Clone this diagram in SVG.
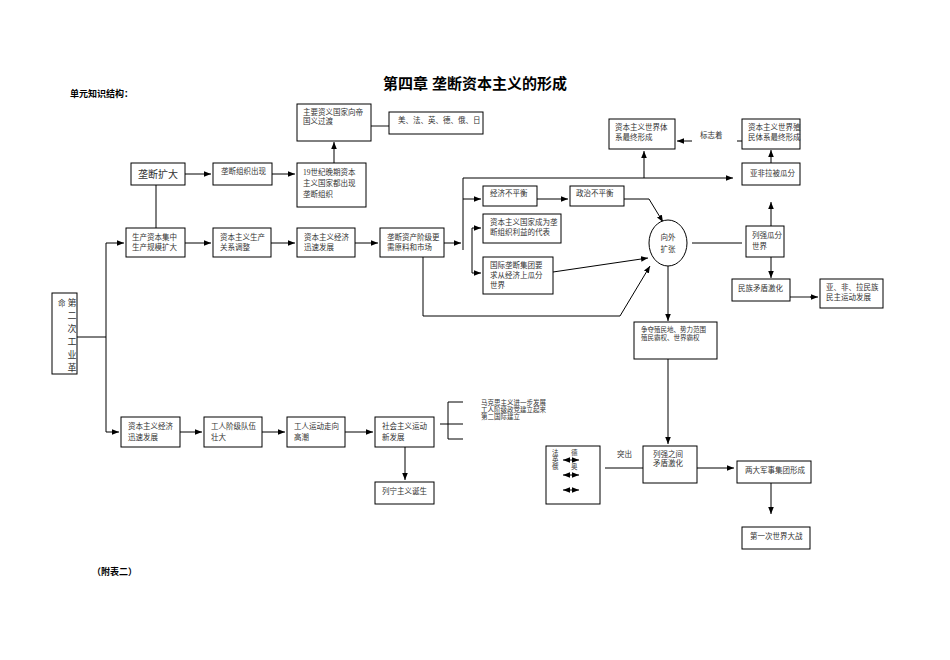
<svg xmlns="http://www.w3.org/2000/svg" width="950" height="660" viewBox="0 0 950 660">
<style>
.b{fill:#fff;stroke:#000;stroke-width:1}
text{font-family:"Liberation Serif","Noto Sans CJK SC",serif;font-size:7.5px;fill:#333}
.t{font-size:6.5px}
.l{fill:none;stroke:#000;stroke-width:1}
.g{fill:none;stroke:#888;stroke-width:2}
</style>
<defs><marker id="a" viewBox="0 0 10 10" refX="10" refY="5" markerWidth="7" markerHeight="7" orient="auto-start-reverse"><path d="M0,1L10,5L0,9z" fill="#000"/></marker></defs>
<rect width="950" height="660" fill="#fff"/>
<text x="475" y="89" text-anchor="middle" style="font-family:'Liberation Sans','Noto Sans CJK SC',sans-serif;font-size:15px;font-weight:bold;fill:#000">第四章  垄断资本主义的形成</text>
<text x="70" y="97" style="font-family:'Liberation Sans','Noto Sans CJK SC',sans-serif;font-size:9px;font-weight:bold;fill:#000">单元知识结构：</text>
<text x="92" y="575" style="font-family:'Liberation Sans','Noto Sans CJK SC',sans-serif;font-size:9px;font-weight:bold;fill:#000">（附表二）</text>
<g id="connectors">
<path class="l" d="M334,163V142" marker-end="url(#a)"/>
<path class="g" d="M371,126H389"/>
<path class="l" d="M185,174H211" marker-end="url(#a)"/>
<path class="l" d="M272,174H295" marker-end="url(#a)"/>
<path class="l" d="M156,185V228"/>
<path class="l" d="M185,243H211" marker-end="url(#a)"/>
<path class="l" d="M271,243H295" marker-end="url(#a)"/>
<path class="l" d="M355,243H378" marker-end="url(#a)"/>
<path class="l" d="M444,243H461" marker-end="url(#a)"/>
<path class="l" d="M463,250V178H733" marker-end="url(#a)"/>
<path class="l" d="M644,178V151" marker-end="url(#a)"/>
<path class="l" d="M463,199H481" marker-end="url(#a)"/>
<path class="l" d="M472,228V273H481" marker-end="url(#a)"/>
<path class="l" d="M472,228H481" marker-end="url(#a)"/>
<path class="l" d="M537,199H568" marker-end="url(#a)"/>
<path class="l" d="M624,199H649L663,222" marker-end="url(#a)"/>
<path class="l" d="M553,272L648,258" marker-end="url(#a)"/>
<path class="l" d="M423,257V316H620L650,266" marker-end="url(#a)"/>
<path class="l" d="M668,266V321" marker-end="url(#a)"/>
<path class="l" d="M692,243H742"/>
<path class="l" d="M771,226V202" marker-end="url(#a)"/>
<path class="l" d="M771,257V278" marker-end="url(#a)"/>
<path class="l" d="M771,163V150" marker-end="url(#a)"/>
<path class="l" d="M692,141H677" marker-end="url(#a)"/>
<path class="l" d="M737,141H742"/>
<path class="g" d="M790,297H816"/>
<path class="l" d="M810,297H818" marker-end="url(#a)"/>
<path class="l" d="M77,337H106V243H124" marker-end="url(#a)"/>
<path class="l" d="M106,337V432H119" marker-end="url(#a)"/>
<path class="l" d="M180,432H202" marker-end="url(#a)"/>
<path class="l" d="M262,432H285" marker-end="url(#a)"/>
<path class="l" d="M345,432H373" marker-end="url(#a)"/>
<path class="l" d="M405,447V480" marker-end="url(#a)"/>
<path class="l" d="M440,424H463M448,402V439M448,402H463M448,439H463"/>
<path class="l" d="M668,359V444" marker-end="url(#a)"/>
<path class="l" d="M605,468H644"/>
<path class="l" d="M697,468H734" marker-end="url(#a)"/>
<path class="l" d="M771,483V514" marker-end="url(#a)"/>
</g>
<g id="n1"><rect class="b" x="297" y="104" width="74" height="37"/><text x="303" y="115">主要资义国家向帝</text><text x="303" y="124">国义过渡</text></g>
<g id="n2"><rect class="b" x="389" y="112" width="94" height="22"/><text x="398" y="123">美、法、英、德、俄、日</text></g>
<g id="n3"><rect class="b" x="131" y="163" width="54" height="22"/><text x="158" y="178" text-anchor="middle" style="font-size:10px">垄断扩大</text></g>
<g id="n4"><rect class="b" x="213" y="163" width="59" height="22"/><text x="221" y="174">垄断组织出现</text></g>
<g id="n5"><rect class="b" x="297" y="163" width="69" height="44"/><text x="303" y="175">19世纪晚期资本</text><text x="303" y="186">主义国家都出现</text><text x="303" y="197">垄断组织</text></g>
<g id="n6"><rect class="b" x="126" y="228" width="59" height="29"/><text x="132" y="240">生产资本集中</text><text x="132" y="250">生产规模扩大</text></g>
<g id="n7"><rect class="b" x="213" y="228" width="58" height="29"/><text x="220" y="240">资本主义生产</text><text x="220" y="250">关系调整</text></g>
<g id="n8"><rect class="b" x="297" y="228" width="58" height="29"/><text x="304" y="240">资本主义经济</text><text x="304" y="250">迅速发展</text></g>
<g id="n9"><rect class="b" x="380" y="228" width="64" height="29"/><text x="387" y="240">垄断资产阶级更</text><text x="387" y="250">需原料和市场</text></g>
<g id="n10"><rect class="b" x="609" y="119" width="66" height="30"/><text x="615" y="130">资本主义世界体</text><text x="615" y="140">系最终形成</text></g>
<g id="n11"><rect class="b" x="742" y="119" width="58" height="30"/><text x="748" y="130">资本主义世界殖</text><text x="748" y="140">民体系最终形成</text></g>
<text x="700" y="138">标志着</text>
<g id="n12"><rect class="b" x="742" y="163" width="58" height="22"/><text x="750" y="176">亚非拉被瓜分</text></g>
<g id="n13"><rect class="b" x="483" y="186" width="54" height="20"/><text x="490" y="196">经济不平衡</text></g>
<g id="n14"><rect class="b" x="570" y="186" width="54" height="20"/><text x="576" y="196">政治不平衡</text></g>
<g id="n15"><rect class="b" x="483" y="214" width="78" height="29"/><text x="490" y="225">资本主义国家成为垄</text><text x="490" y="235">断组织利益的代表</text></g>
<g id="n16"><rect class="b" x="483" y="257" width="70" height="37"/><text x="490" y="268">国际垄断集团要</text><text x="490" y="278">求从经济上瓜分</text><text x="490" y="288">世界</text></g>
<g id="n17"><ellipse class="b" cx="668" cy="243" rx="19" ry="23"/><text x="668" y="240" text-anchor="middle">向外</text><text x="668" y="252" text-anchor="middle">扩张</text></g>
<g id="n18"><rect class="b" x="746" y="226" width="38" height="31"/><text x="752" y="238">列强瓜分</text><text x="752" y="249">世界</text></g>
<g id="n19"><rect class="b" x="732" y="279" width="58" height="22"/><text x="738" y="291">民族矛盾激化</text></g>
<g id="n20"><rect class="b" x="820" y="279" width="63" height="29"/><text x="826" y="290">亚、非、拉民族</text><text x="826" y="300">民主运动发展</text></g>
<g id="n21"><rect class="b" x="634" y="322" width="83" height="37"/><text class="t" x="641" y="332">争夺殖民地、势力范围</text><text class="t" x="641" y="340">殖民霸权、世界霸权</text></g>
<g id="n22"><rect class="b" x="52" y="293" width="25" height="81"/>
<text x="58" y="306">命</text>
<text x="72" y="306" text-anchor="middle" style="font-size:9px">第</text><text x="72" y="319" text-anchor="middle" style="font-size:9px">二</text><text x="72" y="332" text-anchor="middle" style="font-size:9px">次</text><text x="72" y="345" text-anchor="middle" style="font-size:9px">工</text><text x="72" y="358" text-anchor="middle" style="font-size:9px">业</text><text x="72" y="371" text-anchor="middle" style="font-size:9px">革</text></g>
<g id="n23"><rect class="b" x="121" y="417" width="59" height="30"/><text x="128" y="429">资本主义经济</text><text x="128" y="440">迅速发展</text></g>
<g id="n24"><rect class="b" x="204" y="417" width="58" height="30"/><text x="211" y="429">工人阶级队伍</text><text x="211" y="440">壮大</text></g>
<g id="n25"><rect class="b" x="287" y="417" width="58" height="30"/><text x="294" y="429">工人运动走向</text><text x="294" y="440">高潮</text></g>
<g id="n26"><rect class="b" x="375" y="417" width="59" height="30"/><text x="382" y="429">社会主义运动</text><text x="382" y="440">新发展</text></g>
<g id="n27"><rect class="b" x="375" y="482" width="59" height="22"/><text x="382" y="494">列宁主义诞生</text></g>
<g id="n28"><text class="t" x="481" y="405">马克思主义进一步发展</text><text class="t" x="481" y="412">工人阶级政党建立起来</text><text class="t" x="481" y="419">第二国际建立</text></g>
<g id="n29"><rect class="b" x="546" y="446" width="54" height="58"/>
<text class="t" x="552" y="455">法</text><text class="t" x="552" y="462">英</text><text class="t" x="552" y="469">俄</text><text class="t" x="571" y="455">德</text><text class="t" x="571" y="469">奥</text>
<path class="l" d="M563,460H579" marker-start="url(#a)" marker-end="url(#a)"/>
<path class="l" d="M563,475H579" marker-start="url(#a)" marker-end="url(#a)"/>
<path class="l" d="M563,490H579" marker-start="url(#a)" marker-end="url(#a)"/></g>
<text x="617" y="457">突出</text>
<g id="n30"><rect class="b" x="643" y="446" width="54" height="37"/><text x="653" y="457">列强之间</text><text x="653" y="466">矛盾激化</text></g>
<g id="n31"><rect class="b" x="737" y="461" width="74" height="22"/><text x="745" y="473">两大军事集团形成</text></g>
<g id="n32"><rect class="b" x="742" y="527" width="68" height="22"/><text x="750" y="539">第一次世界大战</text></g>
</svg>
